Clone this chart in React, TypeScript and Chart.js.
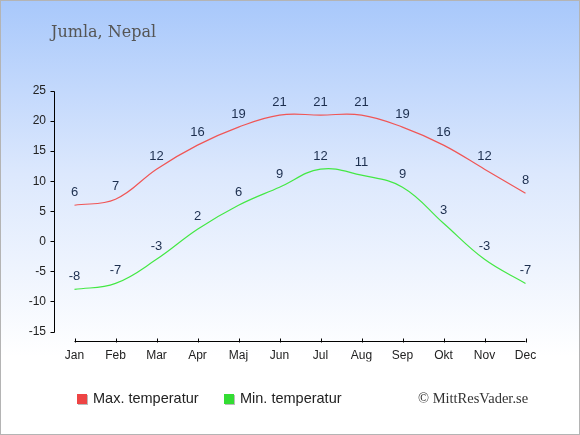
import { useEffect, useRef } from 'react';
import { Chart, registerables } from 'chart.js';

Chart.register(...registerables);

// data
const months = ['Jan', 'Feb', 'Mar', 'Apr', 'Maj', 'Jun', 'Jul', 'Aug', 'Sep', 'Okt', 'Nov', 'Dec'];
const maxTemps = [6, 7, 12, 16, 19, 21, 21, 21, 19, 16, 12, 8];
const minTemps = [-8, -7, -3, 2, 6, 9, 12, 11, 9, 3, -3, -7];
const yTicks = [-15, -10, -5, 0, 5, 10, 15, 20, 25];

const maxColor = '#f05656';
const minColor = '#44e844';
const labelColor = '#1c2e4e';

// axes drawn apart from each other, like the original
const axesPlugin = {
  id: 'axes',
  afterDraw(chart: any) {
    const { ctx, chartArea, scales } = chart;
    const x = scales.x;
    const y = scales.y;
    ctx.save();
    ctx.strokeStyle = '#000';
    ctx.lineWidth = 1;
    // y axis
    const ax = Math.round(chartArea.left) + 0.5;
    ctx.beginPath();
    ctx.moveTo(ax, Math.round(y.getPixelForValue(25)) + 0.5);
    ctx.lineTo(ax, Math.round(y.getPixelForValue(-15)) + 0.5);
    yTicks.forEach((v) => {
      const py = Math.round(y.getPixelForValue(v)) + 0.5;
      ctx.moveTo(ax - 4, py);
      ctx.lineTo(ax, py);
    });
    ctx.stroke();
    // x axis
    const ay = Math.round(chartArea.bottom) + 9.5;
    ctx.beginPath();
    ctx.moveTo(x.getPixelForValue(0), ay);
    ctx.lineTo(x.getPixelForValue(months.length - 1), ay);
    months.forEach((_, i) => {
      const px = Math.round(x.getPixelForValue(i)) + 0.5;
      ctx.moveTo(px, ay - 3);
      ctx.lineTo(px, ay + 1);
    });
    ctx.stroke();
    ctx.restore();
  },
};

const valueLabels = {
  id: 'valueLabels',
  afterDatasetsDraw(chart: any) {
    const { ctx } = chart;
    ctx.save();
    ctx.font = '13px "Liberation Sans", Arial, sans-serif';
    ctx.fillStyle = labelColor;
    ctx.textAlign = 'center';
    ctx.textBaseline = 'middle';
    chart.data.datasets.forEach((ds: any, di: number) => {
      const meta = chart.getDatasetMeta(di);
      meta.data.forEach((pt: any, i: number) => {
        ctx.fillText(String(ds.data[i]), pt.x, pt.y - 13);
      });
    });
    ctx.restore();
  },
};

export default function App() {
  const canvasRef = useRef<HTMLCanvasElement>(null);

  useEffect(() => {
    document.body.style.margin = '0';
    if (!canvasRef.current) return;
    const chart = new Chart(canvasRef.current, {
      type: 'line',
      data: {
        labels: months,
        datasets: [
          {
            label: 'Max. temperatur',
            data: maxTemps,
            borderColor: maxColor,
            borderWidth: 1.2,
            pointRadius: 0,
            tension: 0.4,
            fill: false,
          },
          {
            label: 'Min. temperatur',
            data: minTemps,
            borderColor: minColor,
            borderWidth: 1.2,
            pointRadius: 0,
            tension: 0.4,
            fill: false,
          },
        ],
      },
      options: {
        responsive: false,
        animation: false,
        layout: { padding: { top: 91, left: 0, right: 34, bottom: 73.5 } },
        plugins: {
          legend: { display: false },
          title: { display: false },
          tooltip: { enabled: false },
        },
        events: [],
        scales: {
          x: {
            offset: true,
            grid: { display: false, drawTicks: false },
            border: { display: false },
            ticks: {
              padding: 17,
              color: '#222',
              font: { family: '"Liberation Sans", Arial, sans-serif', size: 12 },
            },
            afterFit: (s: any) => {
              s.height = 30;
            },
          },
          y: {
            min: -15,
            max: 25,
            grid: { display: false, drawTicks: false },
            border: { display: false },
            ticks: {
              stepSize: 5,
              padding: 8,
              color: '#222',
              font: { family: '"Liberation Sans", Arial, sans-serif', size: 12 },
            },
            afterFit: (s: any) => {
              s.width = 54;
            },
          },
        },
      },
      plugins: [axesPlugin, valueLabels],
    });
    return () => chart.destroy();
  }, []);

  const legendText = {
    position: 'absolute' as const,
    top: 389,
    fontFamily: '"Liberation Sans", Arial, sans-serif',
    fontSize: 14.5,
    color: '#222',
    lineHeight: '18px',
  };
  const square = (color: string, left: number) => ({
    position: 'absolute' as const,
    left,
    top: 394,
    width: 10,
    height: 10,
    background: color,
    boxShadow: '1px 1px 0 #bbb',
  });

  return (
    <div
      style={{
        position: 'relative',
        width: 580,
        height: 435,
        background: 'linear-gradient(to bottom, #a8c8fb 0%, #dce8fd 40%, #ffffff 82%)',
        boxShadow: 'inset 0 0 0 1px #b4b4b4',
        overflow: 'hidden',
      }}
    >
      <canvas ref={canvasRef} width={580} height={435} style={{ position: 'absolute', left: 0, top: 0 }} />
      <div
        style={{
          position: 'absolute',
          left: 51,
          top: 22,
          fontFamily: '"DejaVu Serif", serif',
          fontSize: 16,
          color: '#555',
          lineHeight: '20px',
        }}
      >
        Jumla, Nepal
      </div>
      <div style={square('#ee4444', 77)} />
      <div style={{ ...legendText, left: 93 }}>Max. temperatur</div>
      <div style={square('#33dd33', 224)} />
      <div style={{ ...legendText, left: 240 }}>Min. temperatur</div>
      <div
        style={{
          position: 'absolute',
          left: 418,
          top: 389,
          fontFamily: '"Liberation Serif", serif',
          fontSize: 14.5,
          color: '#333',
          lineHeight: '18px',
        }}
      >
        © MittResVader.se
      </div>
    </div>
  );
}
